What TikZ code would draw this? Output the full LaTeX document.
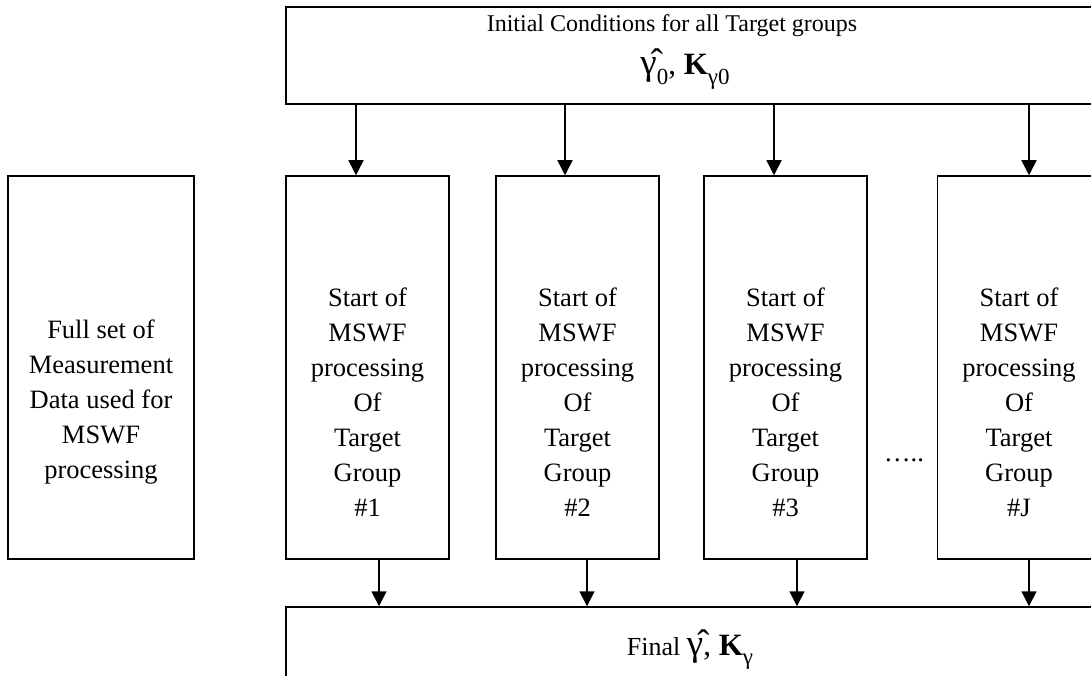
\documentclass[tikz,border=0pt]{standalone}
\usepackage{fontspec}
\setmainfont{Liberation Serif}
\usetikzlibrary{arrows.meta}
\newcommand{\lowsub}[1]{\raisebox{-0.3em}{\fontsize{23}{23}\selectfont #1}}
\newcommand{\gamhat}{{\fontsize{37}{37}\selectfont γ̂}}
\begin{document}
\begin{tikzpicture}[x=1pt,y=-1pt,
  box/.style={draw, line width=1.5pt, minimum width=163pt, minimum height=383pt, inner sep=0pt},
  wide/.style={draw, line width=1.5pt, minimum width=824pt, inner sep=0pt},
  lbl/.style={align=center, font=\fontsize{26.5}{35}\selectfont, inner sep=0pt},
  toplbl/.style={align=center, font=\fontsize{24}{30}\selectfont, inner sep=0pt},
  mathlbl/.style={align=center, font=\fontsize{31}{31}\selectfont, inner sep=0pt},
  arr/.style={line width=1.5pt, -{Triangle[width=15pt,length=15pt]}}]
\useasboundingbox (0,0) rectangle (1091,676);
\clip (0,0) rectangle (1091,676);

% boxes
\node[wide, minimum height=97pt] (init) at (698,55.5) {};
\node[wide, minimum height=93pt] (final) at (698,653.5) {};
\node[box, minimum width=186pt] (data) at (101,367.5) {};
\node[box] (b1) at (367.5,367.5) {};
\node[box] (b2) at (577.5,367.5) {};
\node[box] (b3) at (785.5,367.5) {};
\node[box] (bJ) at (1019,367.5) {};

% labels
\node[toplbl] (initA) at (672,26) {Initial Conditions for all Target groups};
\node[mathlbl, anchor=base] (initB) at (685,75) {\gamhat\lowsub{0}, \textbf{K}\lowsub{γ0}};
\node[mathlbl, anchor=base] (finalB) at (690,655) {{\fontsize{26}{26}\selectfont Final }\gamhat, \textbf{K}\lowsub{γ}};
\node[lbl] (dataL) at (101,402) {Full set of\\Measurement\\Data used for\\MSWF\\processing};
\node[lbl] (t1) at (367.5,402) {Start of\\MSWF\\processing\\Of\\Target\\Group\\\#1};
\node[lbl] (t2) at (577.5,402) {Start of\\MSWF\\processing\\Of\\Target\\Group\\\#2};
\node[lbl] (t3) at (785.5,402) {Start of\\MSWF\\processing\\Of\\Target\\Group\\\#3};
\node[lbl] (tJ) at (1019,402) {Start of\\MSWF\\processing\\Of\\Target\\Group\\\#J};
\node[lbl] (dots) at (904,460) {…..};

% top arrows
\draw[arr] ([xshift=-11.5pt]b1.north |- init.south) -- ([xshift=-11.5pt]b1.north);
\draw[arr] ([xshift=-12.5pt]b2.north |- init.south) -- ([xshift=-12.5pt]b2.north);
\draw[arr] ([xshift=-11.5pt]b3.north |- init.south) -- ([xshift=-11.5pt]b3.north);
\draw[arr] ([xshift=10pt]bJ.north |- init.south) -- ([xshift=10pt]bJ.north);
% bottom arrows
\draw[arr] ([xshift=11.5pt]b1.south) -- ([xshift=11.5pt]b1.south |- final.north);
\draw[arr] ([xshift=9.5pt]b2.south) -- ([xshift=9.5pt]b2.south |- final.north);
\draw[arr] ([xshift=11.5pt]b3.south) -- ([xshift=11.5pt]b3.south |- final.north);
\draw[arr] ([xshift=10pt]bJ.south) -- ([xshift=10pt]bJ.south |- final.north);
\end{tikzpicture}
\end{document}
